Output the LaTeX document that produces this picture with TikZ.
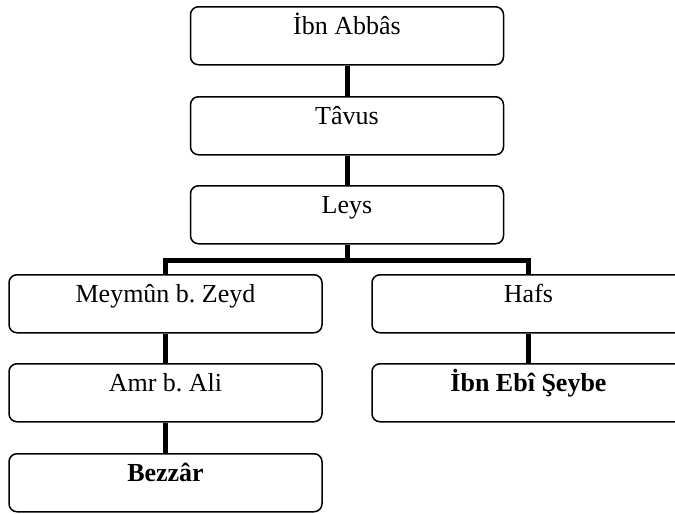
\documentclass[tikz,border=0pt]{standalone}
\usepackage{fontspec}
\setmainfont{Liberation Serif}
\frenchspacing
\begin{document}
\begin{tikzpicture}[x=1pt,y=-1pt,
  namebox/.style={draw=black, line width=1.5pt, rounded corners=8pt,
    rectangle, anchor=north, minimum width=313pt, inner sep=0pt,
    text height=28pt, text depth=30pt,
    font=\fontsize{26}{30}\selectfont},
  conn/.style={draw=black, line width=5pt, line join=miter}]
  \useasboundingbox (0,0) rectangle (675,514);
  \clip (0,0) rectangle (675,514);

  % centre column
  \node[namebox] (abbas) at (347,6)   {İbn Abbâs};
  \node[namebox] (tavus) at (347,96)  {Tâvus};
  \node[namebox] (leys)  at (347,185) {Leys};

  % left branch
  \node[namebox] (meymun) at (165.5,274) {Meymûn b. Zeyd};
  \node[namebox] (amr)    at (165.5,363) {Amr b. Ali};
  \node[namebox] (bezzar) at (165.5,453) {\bfseries Bezzâr};

  % right branch
  \node[namebox] (hafs)   at (528.5,274) {Hafs};
  \node[namebox] (seybe)  at (528.5,363) {\bfseries İbn Ebî Şeybe};

  % connectors
  \coordinate (bus) at (347,260);
  \draw[conn] (abbas.south) -- (tavus.north);
  \draw[conn] (tavus.south) -- (leys.north);
  \draw[conn] (leys.south) -- (bus);
  \draw[conn] (meymun.north) |- (bus) -| (hafs.north);
  \draw[conn] (meymun.south) -- (amr.north);
  \draw[conn] (amr.south) -- (bezzar.north);
  \draw[conn] (hafs.south) -- (seybe.north);
\end{tikzpicture}
\end{document}
